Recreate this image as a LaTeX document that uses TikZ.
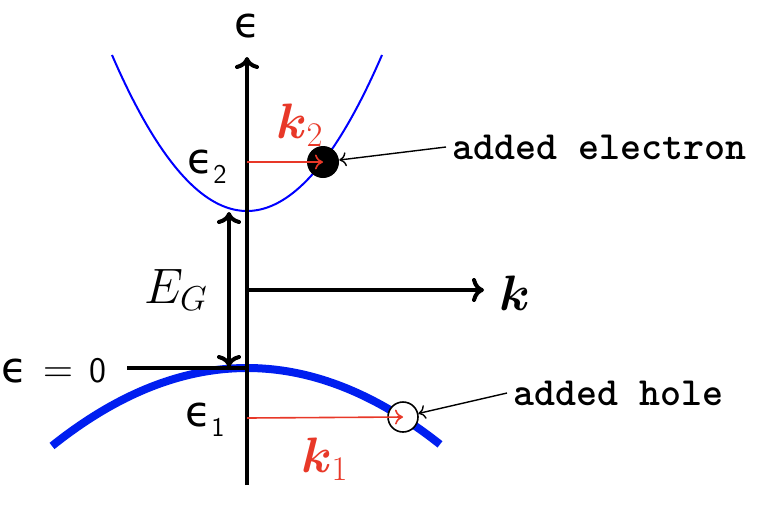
\documentclass[tikz,border=0pt]{standalone}
\usepackage{fontspec}
\usepackage{amsmath}
\usepackage{bm}
\newfontfamily\grk{DejaVu Sans}
\usetikzlibrary{arrows.meta}
\definecolor{kred}{RGB}{232,56,40}
\definecolor{bandblue}{RGB}{0,30,240}
\newcommand{\sep}{{\grk\fontsize{21}{21}\selectfont ϵ}}
\newcommand{\ssub}[1]{\raisebox{-5pt}{\sffamily\fontsize{13.5}{13.5}\selectfont #1}}
\begin{document}
\begin{tikzpicture}[x=0.5pt,y=-0.5pt,
  axis/.style={line width=2pt,-{To[length=6pt,width=12pt]}},
  gaparr/.style={line width=2pt,{To[length=6pt,width=12pt]}-{To[length=6pt,width=12pt]}},
  redarr/.style={kred,line width=0.8pt,-{To[length=4pt,width=7.5pt]}},
  lblarr/.style={line width=0.7pt,-{To[length=3.5pt,width=7pt]}},
  mathlbl/.style={inner sep=0pt,font=\fontsize{23}{27}\selectfont},
  ttlbl/.style={inner sep=3pt,anchor=west,font=\fontsize{20}{24}\selectfont\ttfamily\bfseries}]
\useasboundingbox (0,0) rectangle (774,504);
% coordinates
\coordinate (vbot) at (247,485);
\coordinate (vtop) at (247,57);
\coordinate (kor) at (247,290);
\coordinate (kend) at (484,290);
\coordinate (gtop) at (229,212);
\coordinate (gbot) at (229,367);
\coordinate (zl) at (127,368);
\coordinate (zr) at (247,368);
\coordinate (k2s) at (247,162);
\coordinate (k1s) at (247,418);
% bands
\draw[blue,line width=1pt] plot[domain=-135:135,samples=80] ({247+\x},{211-0.856*(\x/10)*(\x/10)});
\draw[bandblue,line width=4pt] plot[domain=-195:193,samples=80] ({247+\x},{368+0.205*(\x/10)*(\x/10)});
% axes
\draw[axis] (vbot) -- (vtop);
\draw[axis] (kor) -- (kend);
\draw[line width=2pt] (zl) -- (zr);
\draw[gaparr] (gtop) -- (gbot);
% particles
\node[circle,fill=black,minimum size=16pt,inner sep=0pt] (el) at (323,162) {};
\node[circle,draw=black,fill=white,line width=0.8pt,minimum size=15pt,inner sep=0pt] (hl) at (403,417) {};
\draw[redarr] (k2s) -- (el.center);
\draw[redarr] (k1s) -- (hl.center);
% labels
\node[inner sep=0pt] (eps) at (247,26) {\sep};
\node[mathlbl] (kl) at (515,293) {$\boldsymbol{k}$};
\node[mathlbl] (eg) at (176,290) {$E_G$};
\node[mathlbl,text=kred] (k2) at (300,125) {$\boldsymbol{k}_2$};
\node[mathlbl,text=kred] (k1) at (325,459) {$\boldsymbol{k}_1$};
\node[inner sep=0pt] (e2) at (207,167) {\sep\ssub{2}};
\node[inner sep=0pt] (e1) at (205,420) {\sep\ssub{1}};
\node[inner sep=0pt,anchor=west] (ez) at (1,371) {\sep\hspace{8pt}{\fontsize{22}{22}\selectfont$=$}\hspace{8pt}{\sffamily\fontsize{18}{18}\selectfont 0}};
\node[ttlbl] (ae) at (446,147) {added electron};
\node[ttlbl] (ah) at (507,393) {added hole};
\draw[lblarr] (ae.west) -- (el);
\draw[lblarr] (ah.west) -- (hl);
\end{tikzpicture}
\end{document}
